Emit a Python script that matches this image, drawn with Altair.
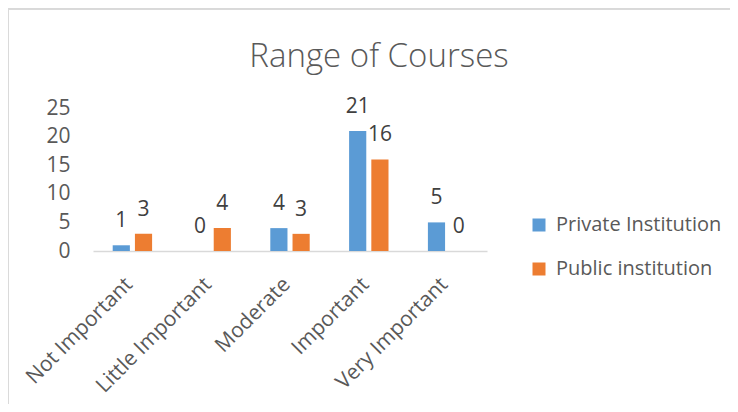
import altair as alt
import pandas as pd

categories = ["Not Important", "Little Important", "Moderate", "Important", "Very Important"]
series = ["Private Institution", "Public institution"]
private_vals = [1, 0, 4, 21, 5]
public_vals = [3, 4, 3, 16, 0]
y_ticks = [0, 5, 10, 15, 20, 25]

rows = []
for c, p, q in zip(categories, private_vals, public_vals):
    rows.append({"cat": c, "series": series[0], "value": p})
    rows.append({"cat": c, "series": series[1], "value": q})
df = pd.DataFrame(rows)

FONT = "Open Sans"
GRAY = "#595959"

x_enc = alt.X("cat:N", sort=categories,
              scale=alt.Scale(paddingInner=0.5, paddingOuter=0.25),
              axis=alt.Axis(title=None, labelAngle=-45, labelFontSize=21, labelColor=GRAY,
                            labelFont=FONT, ticks=False, domainColor="#d9d9d9",
                            domainWidth=1.3, labelPadding=30, labelOffset=-3, labelAlign="right",
                            labelBaseline="middle", labelOverlap=False, labelLimit=300))
xoff = alt.XOffset("series:N", sort=series,
                   scale=alt.Scale(paddingInner=0.227, paddingOuter=0))
y_enc = alt.Y("value:Q", scale=alt.Scale(domain=[0, 25], nice=False),
              axis=alt.Axis(title=None, values=y_ticks, grid=False, domain=False, ticks=False,
                            labelFontSize=21, labelColor=GRAY, labelFont=FONT, labelPadding=23,
                            labelOverlap=False))
color = alt.Color("series:N", sort=series,
                  scale=alt.Scale(domain=series, range=["#5B9BD5", "#ED7D31"]),
                  legend=alt.Legend(title=None, orient="none", legendX=436, legendY=107,
                                    symbolType="square", symbolSize=169, symbolStrokeWidth=0,
                                    labelFontSize=20, labelColor=GRAY, labelFont=FONT,
                                    rowPadding=24, padding=0, labelOffset=7, labelLimit=300))

base = alt.Chart(df)
bars = base.mark_bar().encode(x=x_enc, xOffset=xoff, y=y_enc, color=color)
labels = base.mark_text(fontSize=21, font=FONT, color="#404040", baseline="middle", dy=-24).encode(
    x=x_enc, xOffset=xoff, y=y_enc, text="value:Q")

border_top = alt.Chart(df).mark_rule(color="#d9d9d9", strokeWidth=1).encode(
    x=alt.value(-85), x2=alt.value(640), y=alt.value(-99))
border_left = alt.Chart(df).mark_rule(color="#d9d9d9", strokeWidth=1).encode(
    x=alt.value(-85), y=alt.value(-99), y2=alt.value(320))

chart = alt.layer(bars, labels, border_top, border_left).properties(
    width=394, height=143,
    background="white",
    title=alt.TitleParams("Range of Courses", fontSize=33, font=FONT, fontWeight=300,
                          color=GRAY, dx=89, dy=65, offset=0),
    autosize=alt.AutoSizeParams(type="none"),
    padding={"left": 85, "top": 100, "right": 243, "bottom": 153},
).configure_view(strokeWidth=0, stroke="transparent")

chart.save("out.html", embed_options={"renderer": "svg", "actions": False})
